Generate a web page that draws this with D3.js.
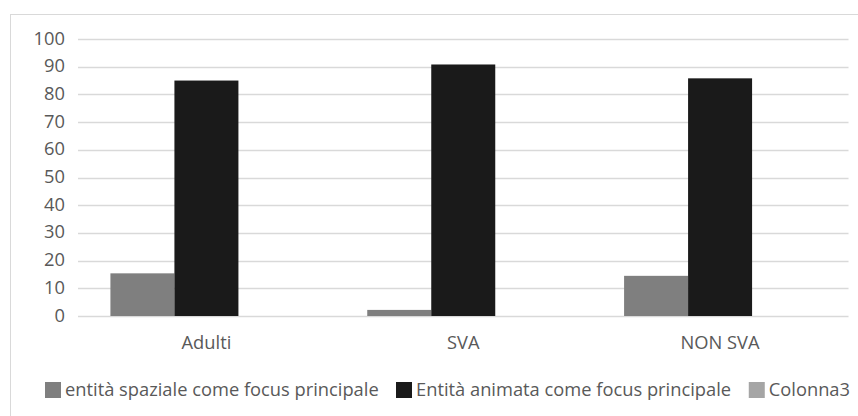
<!DOCTYPE html>
<html>
<head>
<meta charset="utf-8">
<script src="https://cdn.jsdelivr.net/npm/d3@7"></script>
<style>
  body { margin: 0; background: #fff; }
  svg { font-family: "Open Sans", Lato, sans-serif; }
</style>
</head>
<body>
<div id="chart"></div>
<script>
// Data
const categories = ["Adulti", "SVA", "NON SVA"];
const seriesNames = ["entità spaziale come focus principale", "Entità animata come focus principale", "Colonna3"];
const spaziale = [15.4, 2.2, 14.5];
const animata = [85, 90.8, 85.8];
const colonna3 = [null, null, null];
const yTicks = [0, 10, 20, 30, 40, 50, 60, 70, 80, 90, 100];
const colors = ["#7f7f7f", "#1a1a1a", "#a5a5a5"];

const width = 858, height = 416;

const svg = d3.select("#chart").append("svg")
    .attr("width", width)
    .attr("height", height);

// figure out a font size so the first legend entry is as wide as in the picture
const probe = svg.append("text").attr("font-size", 16).text(seriesNames[0]);
const fs = 16 * 314 / probe.node().getComputedTextLength();
probe.remove();

// chart frame (only top and left edges visible in the crop)
svg.append("rect")
    .attr("x", 10.5).attr("y", 14.5)
    .attr("width", 870).attr("height", 430)
    .attr("fill", "none")
    .attr("stroke", "#d9d9d9");

const x = d3.scaleBand()
    .domain(categories)
    .range([78, 848.5]);

const y = d3.scaleLinear()
    .domain([0, 100])
    .range([316, 39]);

// gridlines
svg.append("g")
    .selectAll("line")
    .data(yTicks)
    .enter()
    .append("line")
    .attr("x1", 78).attr("x2", 848.5)
    .attr("y1", d => Math.round(y(d)) + 0.5)
    .attr("y2", d => Math.round(y(d)) + 0.5)
    .attr("stroke", "#d9d9d9")
    .attr("stroke-width", 1.5);

// y tick labels
svg.append("g")
    .selectAll("text")
    .data(yTicks)
    .enter()
    .append("text")
    .attr("x", 65)
    .attr("y", d => y(d) + 5.5)
    .attr("text-anchor", "end")
    .attr("font-size", fs)
    .attr("fill", "#595959")
    .text(d => d);

// bars
const series = [spaziale, animata, colonna3];
const barW = 64;
series.forEach((vals, si) => {
    svg.append("g")
        .selectAll("rect")
        .data(categories.map((c, i) => ({ c, v: vals[i] })).filter(d => d.v != null))
        .enter()
        .append("rect")
        .attr("x", d => x(d.c) + x.bandwidth() / 2 - 1.5 * barW + si * barW)
        .attr("y", d => y(d.v))
        .attr("width", barW)
        .attr("height", d => y(0) - y(d.v))
        .attr("fill", colors[si]);
});

// category labels
svg.append("g")
    .selectAll("text")
    .data(categories)
    .enter()
    .append("text")
    .attr("x", d => x(d) + x.bandwidth() / 2)
    .attr("y", 349)
    .attr("text-anchor", "middle")
    .attr("font-size", fs)
    .attr("fill", "#595959")
    .text(d => d);

// legend
const legend = svg.append("g");
const items = legend.selectAll("g")
    .data(seriesNames)
    .enter()
    .append("g");
items.append("rect")
    .attr("x", 0).attr("y", 382)
    .attr("width", 16).attr("height", 16)
    .attr("fill", (d, i) => colors[i]);
items.append("text")
    .attr("x", 20)
    .attr("y", 395.5)
    .attr("font-size", fs)
    .attr("fill", "#595959")
    .text(d => d);

// first item starts at 45, last one ends at 848, middle one at 396
const lastLen = items.filter((d, i) => i === 2).select("text").node().getComputedTextLength();
const legendStarts = [45, 396, 850 - 20 - lastLen];
items.attr("transform", (d, i) => `translate(${legendStarts[i]},0)`);
</script>
</body>
</html>
